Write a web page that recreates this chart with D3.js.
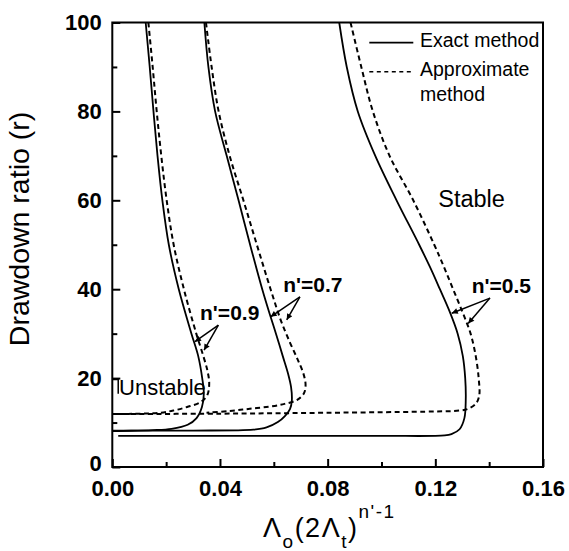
<!DOCTYPE html>
<html><head><meta charset="utf-8">
<script src="https://cdn.jsdelivr.net/npm/d3@7/dist/d3.min.js"></script>
<style>body{margin:0;background:#fff}</style>
</head><body><svg id="c" width="569" height="551"></svg>
<script>
// ---- data (x = Λo(2Λt)^(n'-1), r = drawdown ratio) ----
const xTicks = [0, 0.04, 0.08, 0.12, 0.16];
const xTickLabels = ["0.00", "0.04", "0.08", "0.12", "0.16"];
const xMinor = [0.02, 0.06, 0.10, 0.14];
const yTicks = [0, 20, 40, 60, 80, 100];
const yMinor = [10, 30, 50, 70, 90];

const exact09 = [[0.0124,100],[0.0139,90],[0.0153,80],[0.0168,70],[0.0186,60],[0.0210,50],[0.0247,40],[0.0294,30],[0.0319,25],[0.0334,20],[0.0340,16.5],[0.0333,13.5],[0.0313,11.0],[0.0280,9.5],[0.0220,8.6],[0.0150,8.3],[0.0070,8.15],[0,8.1]];
const approx09 = [[0.0134,100],[0.0150,90],[0.0165,80],[0.0182,70],[0.0202,60],[0.0228,50],[0.0266,40],[0.0312,30],[0.0338,25],[0.0354,21.5],[0.0360,18.8],[0.0353,16.2],[0.0328,14.6],[0.0278,13.5],[0.0227,12.7],[0.0177,12.2],[0.0103,12.0],[0,11.9]];
const exact07 = [[0.0342,100],[0.0357,90],[0.0382,80],[0.0425,70],[0.0469,60],[0.0512,50],[0.0557,40],[0.0588,33.8],[0.0608,30],[0.0633,25],[0.0653,21],[0.0664,18],[0.0667,15],[0.0660,13],[0.0642,11.5],[0.0615,10.1],[0.0573,8.9],[0.0524,8.4],[0.0300,8.2],[0,8.2]];
const approx07 = [[0.0348,100],[0.0369,90],[0.0395,80],[0.0436,70],[0.0487,60],[0.0537,50],[0.0588,40],[0.0626,33],[0.0660,28],[0.0690,24],[0.0710,21],[0.0718,18.5],[0.0712,16.6],[0.0687,15.1],[0.0640,14.2],[0.0586,13.6],[0.0511,13.1],[0.0437,12.6],[0.0350,12.2]];
const exact05 = [[0.0843,100],[0.0871,90],[0.0912,80],[0.0977,70],[0.1056,60],[0.1140,50],[0.1180,45],[0.1217,40],[0.1253,35],[0.1283,30],[0.1302,25],[0.1311,20],[0.1313,15],[0.1308,11],[0.1290,8.5],[0.1260,7.4],[0.1235,7.1],[0.1000,7.0],[0.0500,7.0],[0.0022,7.0]];
const approx05 = [[0.0885,100],[0.0925,90],[0.0968,80],[0.1030,70],[0.1118,60],[0.1196,50],[0.1232,45],[0.1266,40],[0.1300,35],[0.1331,30],[0.1350,25],[0.1361,20],[0.1363,16],[0.1350,14.2],[0.1322,13.1],[0.1290,12.7],[0.1200,12.5],[0.0800,12.2],[0.0400,12.0],[0,11.9]];

const curves = [
  {pts: exact09, dash: false}, {pts: approx09, dash: true},
  {pts: exact07, dash: false}, {pts: approx07, dash: true},
  {pts: exact05, dash: false}, {pts: approx05, dash: true}
];

const nLabels = [
  {text: "n'=0.9", x: 0.0326, r: 33.1, o: [0.0394, 31.9], s: [0.0307, 28.2], d: [0.0341, 26.3]},
  {text: "n'=0.7", x: 0.0635, r: 39.4, o: [0.0697, 38.3], s: [0.0588, 33.8], d: [0.0648, 33.1]},
  {text: "n'=0.5", x: 0.1335, r: 39.1, o: [0.1403, 38.0], s: [0.1261, 34.6], d: [0.1322, 32.3]}
];
const regionLabels = [
  {text: "Unstable", x: 0.0025, r: 16.2, size: 22},
  {text: "Stable", x: 0.1211, r: 58.6, size: 23.5}
];
const bracket = [[0, 19.7], [0.0022, 19.7], [0.0022, 16.5]];
const legendItems = [
  {lines: ["Exact method"], dash: false},
  {lines: ["Approximate", "method"], dash: true}
];

// ---- drawing ----
const svg = d3.select("#c");
svg.append("rect").attr("width", 569).attr("height", 551).attr("fill", "#fff");
const L = 112.3, R = 543, T = 22.5, B = 467;
const x = d3.scaleLinear().domain([0, 0.16]).range([L, R]);
const y = d3.scaleLinear().domain([0, 100]).range([B, T]);
const FONT = "'Liberation Sans', Arial, Helvetica, sans-serif";

const line = d3.line().x(d => x(d[0])).y(d => y(d[1])).curve(d3.curveCatmullRom.alpha(0.5));

const plot = svg.append("g");
curves.forEach(c => {
  plot.append("path").attr("d", line(c.pts)).attr("fill", "none")
    .attr("stroke", "#000").attr("stroke-width", c.dash ? 2 : 1.8)
    .attr("stroke-dasharray", c.dash ? "5,3.5" : null);
});

// axes
const xAxis = svg.append("g").attr("transform", `translate(0,${B})`)
  .call(d3.axisBottom(x).tickValues(xTicks).tickFormat((d, i) => xTickLabels[i]).tickSize(-8).tickPadding(13.5));
const xAxisMinor = svg.append("g").attr("transform", `translate(0,${B})`)
  .call(d3.axisBottom(x).tickValues(xMinor).tickFormat("").tickSize(-5));
const yAxis = svg.append("g").attr("transform", `translate(${L},0)`)
  .call(d3.axisLeft(y).tickValues(yTicks).tickSize(-8).tickPadding(10.5));
const yAxisMinor = svg.append("g").attr("transform", `translate(${L},0)`)
  .call(d3.axisLeft(y).tickValues(yMinor).tickFormat("").tickSize(-5));
[xAxis, xAxisMinor, yAxis, yAxisMinor].forEach(g => {
  g.select(".domain").remove();
  g.selectAll(".tick line").attr("stroke", "#000").attr("stroke-width", 2);
  g.selectAll("text").attr("font-family", FONT).attr("font-size", 22).attr("font-weight", "bold").attr("fill", "#000");
});
yAxis.selectAll(".tick text").filter(d => d === 0).attr("dy", "0.15em");

// frame
svg.append("rect").attr("x", L).attr("y", T).attr("width", R - L).attr("height", B - T)
  .attr("fill", "none").attr("stroke", "#000").attr("stroke-width", 2);

// axis titles
svg.append("text").attr("transform", `translate(29,229) rotate(-90)`)
  .attr("text-anchor", "middle").attr("font-family", FONT).attr("font-size", 28.5)
  .text("Drawdown ratio (r)");
const xt = svg.append("text").attr("x", 263).attr("y", 537).attr("font-family", FONT)
  .attr("font-size", 27).attr("letter-spacing", 1.5);
xt.append("tspan").text("Λ");
xt.append("tspan").attr("dy", 11).attr("font-size", 19).text("o");
xt.append("tspan").attr("dy", -11).text("(2Λ");
xt.append("tspan").attr("dy", 11).attr("font-size", 19).text("t");
xt.append("tspan").attr("dy", -11).text(")");
xt.append("tspan").attr("dy", -19).attr("font-size", 19).text("n'-1");

// markers
const defs = svg.append("defs");
defs.append("marker").attr("id", "ah").attr("viewBox", "0 0 10 10").attr("refX", 10).attr("refY", 5)
  .attr("markerWidth", 9).attr("markerHeight", 6).attr("markerUnits", "userSpaceOnUse").attr("orient", "auto")
  .append("path").attr("d", "M0,0 L10,5 L0,10 Z").attr("fill", "#000");

nLabels.forEach(l => {
  svg.append("text").attr("x", x(l.x)).attr("y", y(l.r)).attr("font-family", FONT)
    .attr("font-size", 21).attr("font-weight", "bold").text(l.text);
  [l.s, l.d].forEach(t => {
    svg.append("line").attr("x1", x(l.o[0])).attr("y1", y(l.o[1])).attr("x2", x(t[0])).attr("y2", y(t[1]))
      .attr("stroke", "#000").attr("stroke-width", 1.5).attr("marker-end", "url(#ah)");
  });
});
regionLabels.forEach(l => {
  svg.append("text").attr("x", x(l.x)).attr("y", y(l.r)).attr("font-family", FONT)
    .attr("font-size", l.size).text(l.text);
});
svg.append("path").attr("d", d3.line().x(d => x(d[0])).y(d => y(d[1]))(bracket))
  .attr("fill", "none").attr("stroke", "#000").attr("stroke-width", 1.5);

// legend
const lg = svg.append("g");
legendItems.forEach((it, i) => {
  const yy = 42.7 + i * 29;
  lg.append("line").attr("x1", 369.3).attr("x2", 413.3).attr("y1", yy).attr("y2", yy)
    .attr("stroke", "#000").attr("stroke-width", it.dash ? 1.5 : 1.8)
    .attr("stroke-dasharray", it.dash ? "4,3.5" : null);
  it.lines.forEach((t, j) => {
    lg.append("text").attr("x", 420).attr("y", yy + 4.5 + j * 25).attr("font-family", FONT)
      .attr("font-size", 19.5).text(t);
  });
});
</script>
</body></html>
